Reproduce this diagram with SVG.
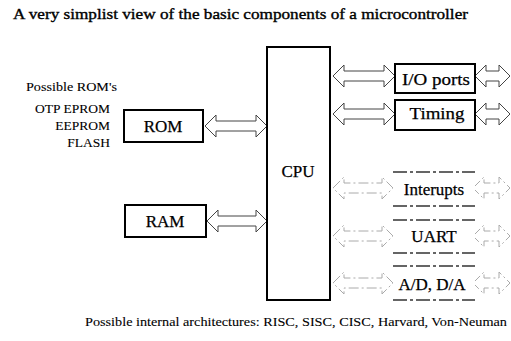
<svg xmlns="http://www.w3.org/2000/svg" width="511" height="341" viewBox="0 0 511 341" font-family="'Liberation Serif', 'Times New Roman', serif">
<style>
text { font-family: 'Liberation Serif', 'Times New Roman', serif; fill: #000; stroke: #000; stroke-width: 0.35; }
.lbl { font-size: 17px; text-anchor: middle; stroke-width: 0.25; }
.small { font-size: 13.5px; stroke-width: 0.1; }
.box { fill: #fff; stroke: #000; stroke-width: 2; }
.dbox { fill: #fff; stroke: none; }
.dline { stroke: #333; stroke-width: 1.5; stroke-dasharray: 14 3 3 3; fill: none; }
.arr { fill: #fff; stroke: #444; stroke-width: 1; }
.darr { fill: #fff; stroke: #aaa; stroke-width: 1; stroke-dasharray: 10 3 2 3; }
</style>
<rect width="511" height="341" fill="#fff" stroke="none"/>
<text x="13" y="19" font-size="14.5" textLength="455" lengthAdjust="spacingAndGlyphs">A very simplist view of the basic components of a microcontroller</text>

<g id="connectors">
  <polygon class="arr" points="205,126 216,115 216,121 256,121 256,115 267,126 256,137 256,131 216,131 216,137"/>
  <polygon class="arr" points="207,221 218,210 218,216 256,216 256,210 267,221 256,232 256,226 218,226 218,232"/>
  <polygon class="arr" points="333,76 344,65 344,71 384,71 384,65 395,76 384,87 384,81 344,81 344,87"/>
  <polygon class="arr" points="475,76 486,65 486,71 499,71 499,65 510,76 499,87 499,81 486,81 486,87"/>
  <polygon class="arr" points="333,114 344,103 344,109 384,109 384,103 395,114 384,125 384,119 344,119 344,125"/>
  <polygon class="arr" points="475,114 486,103 486,109 499,109 499,103 510,114 499,125 499,119 486,119 486,125"/>
  <polygon class="darr" points="333,188 344,177 344,183 382,183 382,177 393,188 382,199 382,193 344,193 344,199"/>
  <polygon class="darr" points="473,188 484,177 484,183 499,183 499,177 510,188 499,199 499,193 484,193 484,199"/>
  <polygon class="darr" points="333,236 344,225 344,231 382,231 382,225 393,236 382,247 382,241 344,241 344,247"/>
  <polygon class="darr" points="473,236 484,225 484,231 499,231 499,225 510,236 499,247 499,241 484,241 484,247"/>
  <polygon class="darr" points="333,283 344,272 344,278 382,278 382,272 393,283 382,294 382,288 344,288 344,294"/>
  <polygon class="darr" points="473,283 484,272 484,278 499,278 499,272 510,283 499,294 499,288 484,288 484,294"/>
</g>

<g id="rom-notes">
  <text class="small" x="26" y="91" textLength="91" lengthAdjust="spacingAndGlyphs">Possible ROM's</text>
  <text class="small" x="110" y="113" text-anchor="end">OTP EPROM</text>
  <text class="small" x="110" y="130" text-anchor="end">EEPROM</text>
  <text class="small" x="110" y="147" text-anchor="end">FLASH</text>
</g>

<g id="rom">
  <rect class="box" x="124" y="110" width="79" height="32"/>
  <text class="lbl" x="163" y="132">ROM</text>
</g>
<g id="ram">
  <rect class="box" x="125" y="205" width="81" height="32"/>
  <text class="lbl" x="165" y="227">RAM</text>
</g>
<g id="cpu">
  <rect class="box" x="267" y="47" width="63" height="253"/>
  <text class="lbl" x="298" y="177">CPU</text>
</g>
<g id="io-ports">
  <rect class="box" x="395" y="64" width="80" height="29"/>
  <text class="lbl" x="436" y="85" textLength="68" lengthAdjust="spacingAndGlyphs">I/O ports</text>
</g>
<g id="timing">
  <rect class="box" x="395" y="100" width="80" height="30"/>
  <text class="lbl" x="437" y="119" textLength="55" lengthAdjust="spacingAndGlyphs">Timing</text>
</g>
<g id="interupts">
  <rect class="dbox" x="393" y="172" width="82" height="34"/>
  <line class="dline" x1="393" y1="172" x2="475" y2="172"/>
  <line class="dline" x1="393" y1="206" x2="475" y2="206"/>
  <text class="lbl" x="434" y="195">Interupts</text>
</g>
<g id="uart">
  <rect class="dbox" x="393" y="220" width="82" height="33"/>
  <line class="dline" x1="393" y1="220" x2="475" y2="220"/>
  <line class="dline" x1="393" y1="253" x2="475" y2="253"/>
  <text class="lbl" x="434" y="242">UART</text>
</g>
<g id="ad-da">
  <rect class="dbox" x="393" y="266" width="82" height="34"/>
  <line class="dline" x1="393" y1="266" x2="475" y2="266"/>
  <line class="dline" x1="393" y1="300" x2="475" y2="300"/>
  <text class="lbl" x="432" y="290">A/D, D/A</text>
</g>

<text class="small" x="85" y="326" textLength="422" lengthAdjust="spacingAndGlyphs">Possible internal architectures: RISC, SISC, CISC, Harvard, Von-Neuman</text>
</svg>
